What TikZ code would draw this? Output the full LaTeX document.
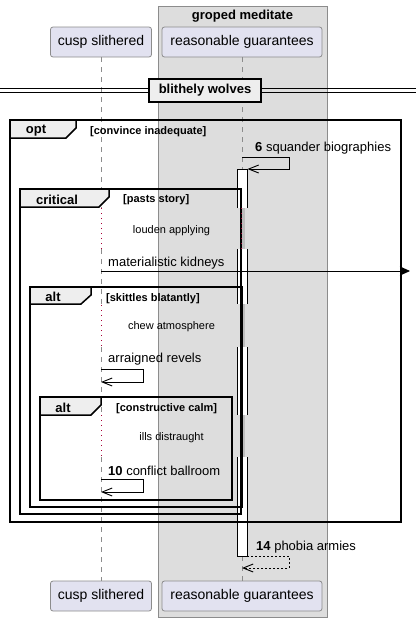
\documentclass[tikz,border=0pt]{standalone}
\usepackage{fontspec}
\setmainfont{Liberation Sans}
\usetikzlibrary{arrows.meta}
\definecolor{partfill}{HTML}{E2E2F0}
\definecolor{partline}{HTML}{8C8C8C}
\definecolor{grpfill}{HTML}{DDDDDD}
\definecolor{grpline}{HTML}{8C8C8C}
\definecolor{tabfill}{HTML}{EEEEEE}
\definecolor{lifegray}{HTML}{8C8C8C}
\definecolor{delayred}{HTML}{A80036}
\definecolor{bandgray}{HTML}{BDBDBD}
\tikzset{
  part/.style={draw=partline, fill=partfill, rounded corners=2.5pt, minimum height=30pt, font=\fontsize{14}{16}\selectfont, inner sep=0pt, line width=0.8pt},
  umlframe/.style={draw=black, line width=1.5pt},
  umltab/.style={draw=black, fill=tabfill, line width=1.5pt, line join=miter},
  flabel/.style={font=\bfseries\fontsize{13}{15}\selectfont, inner sep=0pt},
  guard/.style={font=\bfseries\fontsize{11}{13}\selectfont, inner sep=0pt, anchor=west},
  msg/.style={font=\fontsize{13}{15}\selectfont, inner sep=0pt, anchor=west},
  delaytext/.style={font=\fontsize{11}{13}\selectfont, inner sep=0pt},
  life/.style={draw=lifegray, line width=0.8pt, dash pattern=on 5pt off 5pt},
  dotline/.style={draw=delayred, line width=1pt, dash pattern=on 1pt off 4pt},
  actside/.style={draw=black, line width=1pt},
  arrowline/.style={draw=black, line width=0.9pt},
  openhead/.style={-{Straight Barb[length=10pt,width=8pt]}},
}
\begin{document}
\begin{tikzpicture}[x=1pt,y=-1pt]
\useasboundingbox (0,0) rectangle (416,622);
% group box
\draw[draw=grpline, fill=grpfill, line width=0.8pt] (158,6) rectangle (327,617);
\node[font=\bfseries\fontsize{13}{15}\selectfont, inner sep=0pt] (grp) at (242.5,16) {groped meditate};
% participants
\node[part, minimum width=101pt] (cA) at (101,42) {cusp slithered};
\node[part, minimum width=160pt] (rA) at (242,42) {reasonable guarantees};
\node[part, minimum width=101pt] (cB) at (101,596) {cusp slithered};
\node[part, minimum width=160pt] (rB) at (242,596) {reasonable guarantees};
% lifeline coordinates
\coordinate (c1) at (101,208); \coordinate (c2) at (101,249);
\coordinate (c3) at (101,305); \coordinate (c4) at (101,347);
\coordinate (c5) at (101,415); \coordinate (c6) at (101,457);
\coordinate (r0) at (242,169); \coordinate (r9) at (242,556);
% cusp lifeline
\draw[life] (cA.south) -- (c1);
\draw[life] (c2) -- (c3);
\draw[life] (c4) -- (c5);
\draw[life] (c6) -- (cB.north);
\draw[dotline] (c1) -- (c2);
\draw[dotline] (c3) -- (c4);
\draw[dotline] (c5) -- (c6);
% rg lifeline
\draw[life] (rA.south) -- (r0);
\draw[life] (r9) -- (rB.north);
% activation segments
\fill[white] (237,169) rectangle (247,208);
\fill[white] (237,249) rectangle (247,304);
\fill[white] (237,347) rectangle (247,415);
\fill[white] (237,457) rectangle (247,556);
\draw[actside] (237,208) -- (237,169) -- (247,169) -- (247,208);
\draw[actside] (237,249) -- (237,304) (247,249) -- (247,304);
\draw[actside] (237,347) -- (237,415) (247,347) -- (247,415);
\draw[actside] (237,457) -- (237,556) -- (247,556) -- (247,457);
\fill[bandgray] (239.5,208) rectangle (244.5,249);
\fill[bandgray] (239.5,304) rectangle (244.5,347);
\fill[bandgray] (239.5,415) rectangle (244.5,457);
% divider
\draw[black, line width=1pt] (0,88.5) -- (416,88.5);
\draw[black, line width=1pt] (0,92.5) -- (416,92.5);
\node[draw=black, line width=2pt, fill=tabfill, minimum width=112pt, minimum height=23pt, inner sep=0pt, font=\bfseries\fontsize{13}{15}\selectfont] (div) at (205,90) {blithely wolves};
% frame opt
\draw[umlframe] (10,120) rectangle (401,522);
\draw[umltab] (10,120) -- (76,120) -- (76,128) -- (66,138) -- (10,138) -- cycle;
\node[flabel] (optL) at (36,131) {opt};
\node[guard] (optG) at (90,131.5) {[convince inadequate]};
% frame critical
\draw[umlframe] (20,189) rectangle (241,514);
\draw[umltab] (20,189) -- (109,189) -- (109,197) -- (99,207) -- (20,207) -- cycle;
\node[flabel] (crL) at (57,199.5) {critical};
\node[guard] (crG) at (123,199.5) {[pasts story]};
% frame alt 1
\draw[umlframe] (30,287) rectangle (242,507);
\draw[umltab] (30,287) -- (91,287) -- (91,295) -- (81,304) -- (30,304) -- cycle;
\node[flabel] (a1L) at (53,297) {alt};
\node[guard] (a1G) at (106,298.5) {[skittles blatantly]};
% frame alt 2
\draw[umlframe] (40,397) rectangle (232,500);
\draw[umltab] (40,397) -- (101,397) -- (101,405) -- (91,415) -- (40,415) -- cycle;
\node[flabel] (a2L) at (63,408) {alt};
\node[guard] (a2G) at (116,408.5) {[constructive calm]};
% red dots over critical edge
\draw[dotline] (241.5,208) -- (241.5,249);
% delays
\node[delaytext] (d1) at (171.5,231) {louden applying};
\node[delaytext] (d2) at (171.5,327) {chew atmosphere};
\node[delaytext] (d3) at (171.5,438) {ills distraught};
% message 6
\coordinate (m6a) at (242,157); \coordinate (m6b) at (289,157);
\coordinate (m6c) at (289,169); \coordinate (m6d) at (247.5,169);
\draw[arrowline, openhead] (m6a) -- (m6b) -- (m6c) -- (m6d);
\node[msg] (l6) at (255,148) {\textbf{6} squander biographies};
% materialistic kidneys
\coordinate (mks) at (101,271); \coordinate (mke) at (410,271);
\draw[arrowline, -{Stealth[length=10pt,width=9pt,inset=2pt]}] (mks) -- (mke);
\node[msg] (lmk) at (108,263.5) {materialistic kidneys};
% arraigned revels
\coordinate (ara) at (101,369); \coordinate (arb) at (143,369);
\coordinate (arc) at (143,382); \coordinate (ard) at (101,382);
\draw[arrowline, openhead] (ara) -- (arb) -- (arc) -- (ard);
\node[msg] (lar) at (108,359.5) {arraigned revels};
% 10 conflict ballroom
\coordinate (cba) at (101,479); \coordinate (cbb) at (143,479);
\coordinate (cbc) at (143,492); \coordinate (cbd) at (101,492);
\draw[arrowline, openhead] (cba) -- (cbb) -- (cbc) -- (cbd);
\node[msg] (lcb) at (108,470.5) {\textbf{10} conflict ballroom};
% 14 phobia armies
\coordinate (pa) at (247,556); \coordinate (pb) at (289,556);
\coordinate (pc) at (289,568); \coordinate (pd) at (242,568);
\draw[arrowline, openhead, dash pattern=on 2pt off 2pt] (pa) -- (pb) -- (pc) -- (pd);
\node[msg] (lpa) at (256,547.5) {\textbf{14} phobia armies};
\end{tikzpicture}
\end{document}
